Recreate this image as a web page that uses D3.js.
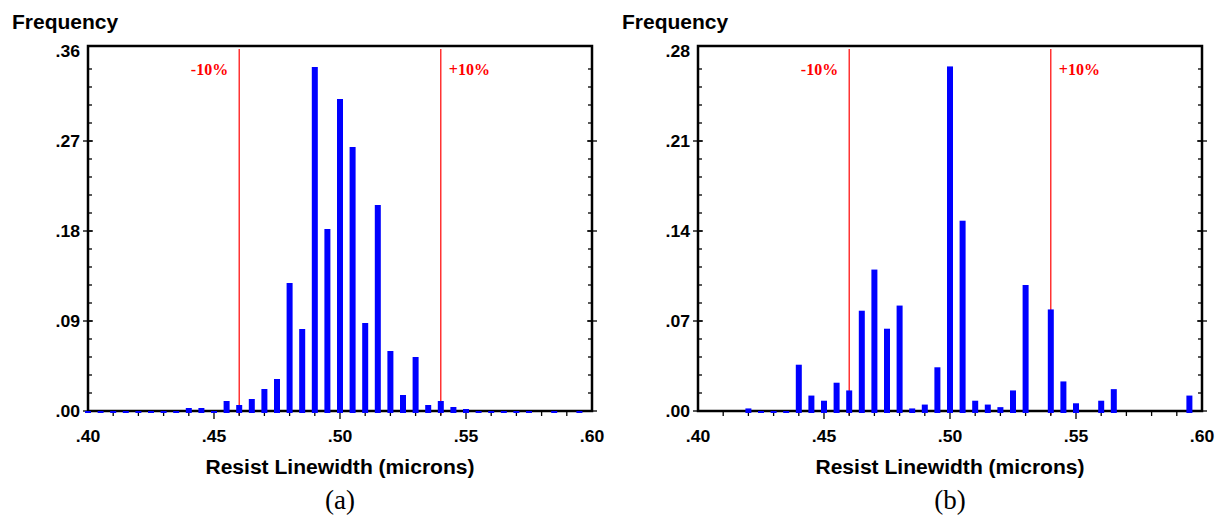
<!DOCTYPE html>
<html>
<head>
<meta charset="utf-8">
<script src="https://cdn.jsdelivr.net/npm/d3@7/dist/d3.min.js"></script>
<style>
  body { margin: 0; background: #fff; }
  text { font-family: "Liberation Sans", Arial, sans-serif; }
</style>
</head>
<body>
<div id="chart"></div>
<script>
// bin centres (microns) and frequencies
const binsA = [0.400, 0.405, 0.410, 0.415, 0.420, 0.425, 0.430, 0.435, 0.440, 0.445,
               0.450, 0.455, 0.460, 0.465, 0.470, 0.475, 0.480, 0.485, 0.490, 0.495,
               0.500, 0.505, 0.510, 0.515, 0.520, 0.525, 0.530, 0.535, 0.540, 0.545,
               0.550, 0.555, 0.560, 0.565, 0.570, 0.575, 0.585, 0.595];
const freqA = [0.000, 0.000, 0.000, 0.000, 0.000, 0.000, 0.000, 0.000, 0.003, 0.003,
               0.000, 0.010, 0.006, 0.012, 0.022, 0.032, 0.128, 0.082, 0.344, 0.182,
               0.312, 0.264, 0.088, 0.206, 0.060, 0.016, 0.054, 0.006, 0.010, 0.004,
               0.002, 0.000, 0.000, 0.000, 0.000, 0.000, 0.000, 0.000];

const binsB = [0.420, 0.425, 0.430, 0.435, 0.440, 0.445, 0.450, 0.455, 0.460, 0.465,
               0.470, 0.475, 0.480, 0.485, 0.490, 0.495, 0.500, 0.505, 0.510, 0.515,
               0.520, 0.525, 0.530, 0.540, 0.545, 0.550, 0.560, 0.565, 0.595];
const freqB = [0.002, 0.000, 0.000, 0.000, 0.036, 0.012, 0.008, 0.022, 0.016, 0.078,
               0.110, 0.064, 0.082, 0.002, 0.005, 0.034, 0.268, 0.148, 0.008, 0.005,
               0.003, 0.016, 0.098, 0.079, 0.023, 0.006, 0.008, 0.017, 0.012];

const yTicksA = [0, 0.09, 0.18, 0.27, 0.36];
const yTicksB = [0, 0.07, 0.14, 0.21, 0.28];
const xTicks = [0.40, 0.45, 0.50, 0.55, 0.60];
const specLimits = [0.46, 0.54];
const specLabels = ["-10%", "+10%"];

const svg = d3.select("#chart").append("svg")
    .attr("width", 1216).attr("height", 516)
    .style("background", "#fff");

function tickFmt(v) {
    return d3.format(".2f")(v).replace(/^0/, "");
}

// the original lettering is a bit wider than Liberation Sans, stretch it
function widen(sel, k) {
    sel.each(function () {
        const w = this.getComputedTextLength();
        d3.select(this).attr("textLength", w * k).attr("lengthAdjust", "spacingAndGlyphs");
    });
}

function drawPanel(left, bins, freq, yTicks, caption) {
    const yMax = yTicks[yTicks.length - 1];
    const x = d3.scaleLinear().domain([0.40, 0.60]).range([left, left + 504]);
    const y = d3.scaleLinear().domain([0, yMax]).range([411, 51]);
    const g = svg.append("g");
    const frameTop = 46;

    // spec limit lines (behind bars)
    g.selectAll(".spec").data(specLimits).enter().append("line")
        .attr("x1", d => x(d)).attr("x2", d => x(d))
        .attr("y1", frameTop + 3).attr("y2", 415)
        .attr("stroke", "#ff0000").attr("stroke-width", 1.2);

    g.append("text").attr("x", x(specLimits[0]) - 11).attr("y", 75)
        .attr("text-anchor", "end")
        .style("font-family", "'Liberation Serif', 'Times New Roman', serif")
        .style("font-weight", "bold").style("font-size", "16px")
        .attr("fill", "#ff0000").text(specLabels[0]);
    g.append("text").attr("x", x(specLimits[1]) + 8).attr("y", 75)
        .style("font-family", "'Liberation Serif', 'Times New Roman', serif")
        .style("font-weight", "bold").style("font-size", "16px")
        .attr("fill", "#ff0000").text(specLabels[1]);

    // frame
    g.append("rect").attr("x", left).attr("y", frameTop)
        .attr("width", 504).attr("height", 411 - frameTop)
        .attr("fill", "none").attr("stroke", "#000").attr("stroke-width", 2.5);

    // y ticks: minor inside on both sides, majors crossing
    const minorY = d3.range(1, 20).map(i => i * yMax / 20);
    [left, left + 504].forEach((ax, k) => {
        const dir = k === 0 ? 1 : -1;
        g.selectAll(null).data(minorY).enter().append("line")
            .attr("x1", ax).attr("x2", ax + dir * 4)
            .attr("y1", d => y(d)).attr("y2", d => y(d))
            .attr("stroke", "#000").attr("stroke-width", 1.3);
        g.selectAll(null).data(yTicks.slice(0, -1)).enter().append("line")
            .attr("x1", ax - 5).attr("x2", ax + 5)
            .attr("y1", d => y(d)).attr("y2", d => y(d))
            .attr("stroke", "#000").attr("stroke-width", 1.3);
    });

    // x ticks below axis
    const minorX = d3.range(41, 60).map(i => i / 100);
    g.selectAll(null).data(minorX).enter().append("line")
        .attr("x1", d => x(d)).attr("x2", d => x(d))
        .attr("y1", 411).attr("y2", d => Math.abs(d * 20 - Math.round(d * 20)) < 1e-6 ? 419 : 416)
        .attr("stroke", "#000").attr("stroke-width", 1.3);

    // bars
    g.selectAll(".bar").data(bins.map((b, i) => ({ b: b, f: freq[i] }))).enter().append("rect")
        .attr("x", d => x(d.b) - 3).attr("width", 6)
        .attr("y", d => y(d.f))
        .attr("height", d => y(0) - y(d.f) + 2)
        .attr("fill", "#0000ff");

    // tick labels
    g.selectAll(null).data(yTicks).enter().append("text")
        .attr("x", left - 8).attr("y", d => y(d) + 5.5)
        .attr("text-anchor", "end")
        .style("font-weight", "bold").style("font-size", "16px")
        .text(tickFmt)
        .call(widen, 1.1);
    g.selectAll(null).data(xTicks).enter().append("text")
        .attr("x", d => x(d)).attr("y", 442)
        .attr("text-anchor", "middle")
        .style("font-weight", "bold").style("font-size", "16px")
        .text(tickFmt)
        .call(widen, 1.1);

    g.append("text").attr("x", left - 76).attr("y", 29)
        .style("font-weight", "bold").style("font-size", "20px")
        .text("Frequency")
        .call(widen, 1.05);
    g.append("text").attr("x", left + 252).attr("y", 474)
        .attr("text-anchor", "middle")
        .style("font-weight", "bold").style("font-size", "19.5px")
        .text("Resist Linewidth (microns)")
        .call(widen, 1.08);
    g.append("text").attr("x", left + 252).attr("y", 509)
        .attr("text-anchor", "middle")
        .style("font-family", "'Liberation Serif', 'Times New Roman', serif")
        .style("font-size", "27px")
        .text(caption);
}

drawPanel(88, binsA, freqA, yTicksA, "(a)");
drawPanel(698, binsB, freqB, yTicksB, "(b)");
</script>
</body>
</html>
